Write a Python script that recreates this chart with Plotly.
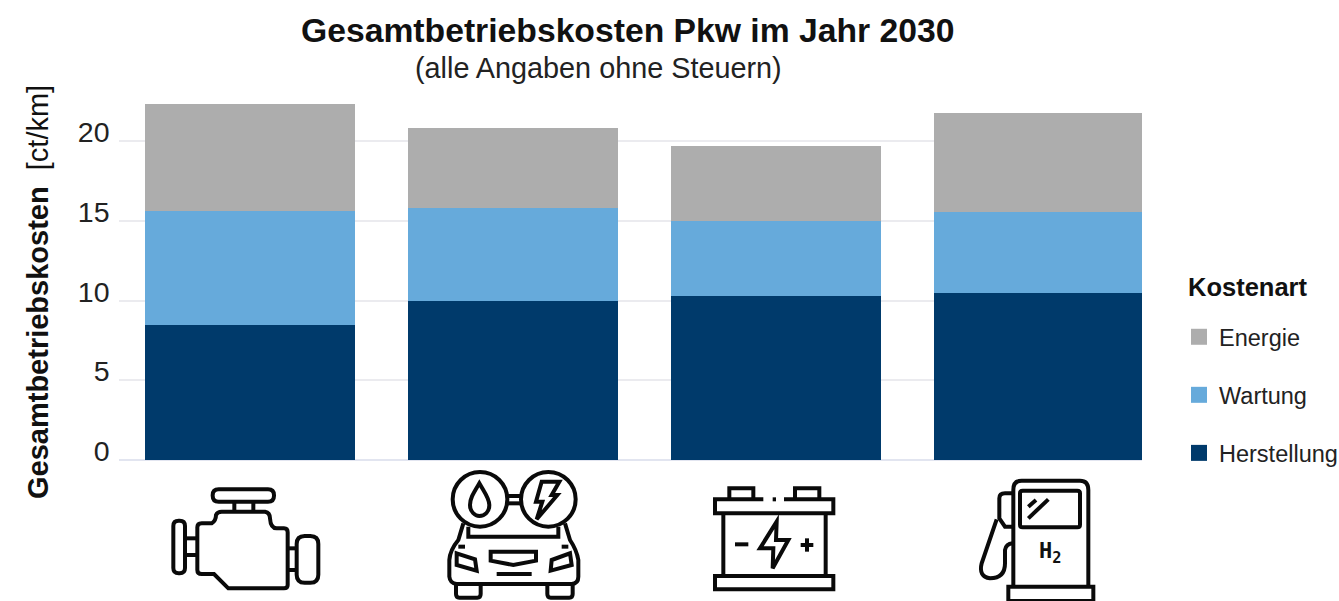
import re
import plotly.graph_objects as go

W, H = 1339, 601

# Cost stack per drivetrain, ct/km
drivetrains = ["Verbrenner", "Hybrid", "Batterie", "Wasserstoff"]
herstellung = [8.47, 9.98, 10.3, 10.48]
wartung = [7.19, 5.87, 4.7, 5.09]
energie = [6.69, 5.02, 4.7, 6.23]
y_ticks = [0, 5, 10, 15, 20]

DARK, BLUE, GREY = "#003a6b", "#66aadb", "#adadad"
TEXT = "#222222"
FONT = "Liberation Sans"


def rrect(x0, y0, x1, y1, r):
    return (f"M{x0+r},{y0} L{x1-r},{y0} Q{x1},{y0} {x1},{y0+r} L{x1},{y1-r} Q{x1},{y1} {x1-r},{y1} "
            f"L{x0+r},{y1} Q{x0},{y1} {x0},{y1-r} L{x0},{y0+r} Q{x0},{y0} {x0+r},{y0} Z")


def circle(cx, cy, r):
    k = 0.5523 * r
    return (f"M{cx-r},{cy} C{cx-r},{cy-k} {cx-k},{cy-r} {cx},{cy-r} C{cx+k},{cy-r} {cx+r},{cy-k} {cx+r},{cy} "
            f"C{cx+r},{cy+k} {cx+k},{cy+r} {cx},{cy+r} C{cx-k},{cy+r} {cx-r},{cy+k} {cx-r},{cy} Z")


# Icon outlines, drawn on a 3x grid and placed by an offset
ENGINE_CAR = [
    rrect(218, 58, 402, 95, 18),
    "M283,95 L283,125", "M340,95 L340,125",
    "M185,160 L215,160 Q228,152 228,135 Q232,125 245,125 L375,125 Q390,128 390,145 Q392,175 410,175 "
    "L432,175 Q443,175 443,187 L443,345 Q443,355 432,355 L265,355 L222,312 L185,312 Q172,312 172,300 "
    "L172,172 Q172,160 185,160 Z",
    rrect(100, 152, 135, 310, 16),
    "M135,205 L172,205", "M135,255 L172,255",
    "M443,235 L470,235", "M443,300 L470,300",
    rrect(470, 198, 535, 338, 24),
    circle(1020, 88, 82), circle(1225, 88, 82),
    "M1102,78 L1145,78", "M1102,100 L1145,100",
    "M1018,40 C1000,70 990,85 990,105 C990,125 1005,138 1018,138 C1035,138 1048,125 1048,105 C1048,85 1035,70 1018,40 Z",
    "M1205,35 L1258,35 L1235,75 L1252,75 L1190,148 L1207,95 L1188,95 Z",
    "M970,160 L955,210 Q930,240 928,270 L928,320 Q930,340 950,342 L1295,342 Q1315,340 1315,320 L1315,270 "
    "Q1310,240 1290,210 L1275,160",
    "M985,170 L985,200 L1255,200 L1255,170",
    "M948,342 L948,372 Q948,383 958,383 L1012,383 Q1022,383 1022,372 L1022,342",
    "M1222,342 L1222,372 Q1222,383 1232,383 L1288,383 Q1298,383 1298,372 L1298,342",
    "M950,250 L1005,268 L1010,302 L950,285 Z", "M1235,270 L1290,250 L1295,285 L1232,302 Z",
    "M955,230 L975,230", "M1265,230 L1285,230",
    "M1052,245 L1188,245 L1188,272 L1120,285 L1052,272 Z",
    "M1070,312 L1175,312",
]
BATTERY_PUMP = [
    "M148,88 L148,55 L220,55 L220,88", "M345,88 L345,55 L418,55 L418,88",
    "M250,88 L105,88 L105,130 L460,130 L460,88 L312,88", "M278,88 L288,88",
    "M130,130 L130,318", "M437,130 L437,318",
    "M105,318 L460,318 L460,358 L105,358 Z",
    "M165,223 L205,223", "M362,225 L400,225", "M381,205 L381,245",
    "M290,155 L240,235 L280,235 L278,295 L325,210 L288,210 Z",
    "M1000,350 L1000,60 Q1000,32 1025,32 L1200,32 Q1225,32 1225,60 L1225,350",
    "M985,400 L985,350 L1240,350 L1240,400", "M985,393 L1240,393",
    rrect(1020, 62, 1200, 172, 8),
    "M1045,110 L1068,90", "M1045,145 L1105,88",
    "M1000,70 L975,70 Q958,70 958,85 L958,145 L975,170 L1000,170",
    "M950,148 L905,280 Q895,320 930,325 Q975,325 975,280 L975,240 Q978,222 998,220",
]


def place(path, ox, oy):
    # Path coordinates alternate x,y; bring them from the 3x grid to page pixels
    def conv(m):
        return f"{ox + float(m.group(1))/3:.2f},{oy + float(m.group(2))/3:.2f}"
    return re.sub(r"(-?[\d.]+),(-?[\d.]+)", conv, path)


def icon_shapes(paths, ox, oy):
    return [dict(type="path", path=place(p, ox, oy), xref="x2", yref="y2",
                 line=dict(color="#0a0a0a", width=4), layer="above") for p in paths]


series = [("Herstellung", herstellung, DARK, 3),
          ("Wartung", wartung, BLUE, 2),
          ("Energie", energie, GREY, 1)]

fig = go.Figure()
for name, values, colour, rank in series:
    fig.add_bar(x=drivetrains, y=values, name=name, marker_color=colour,
                marker_line_width=0, showlegend=False)

# Legend entries with larger square keys, on the page-pixel axis
for name, values, colour, rank in series:
    fig.add_scatter(x=[None], y=[None], xaxis="x2", yaxis="y2", mode="markers", name=name,
                    marker=dict(symbol="square", size=16, color=colour),
                    legendgroup=name, legendrank=rank, hoverinfo="skip")

fig.update_layout(
    width=W, height=H, barmode="stack", bargap=0.2,
    margin=dict(l=0, r=0, t=0, b=0, autoexpand=False),
    paper_bgcolor="white", plot_bgcolor="rgba(0,0,0,0)",
    font=dict(family=FONT, color=TEXT),
    xaxis=dict(domain=[118.5/W, 1142/W], range=[-0.5, 3.392], showticklabels=False,
               showgrid=False, zeroline=False, ticks=""),
    yaxis=dict(domain=[(H-460)/H, (H-90)/H], range=[0, 23.23], tickvals=y_ticks,
               tickfont=dict(size=28.5, color=TEXT), gridcolor="#ebebef", gridwidth=1.5,
               zeroline=True, zerolinecolor="#e2e5f0", zerolinewidth=1.5, ticks="",
               ticklabelstandoff=8, ticklabelshift=-9),
    xaxis2=dict(domain=[0, 1], range=[0, W], visible=False, anchor="y2"),
    yaxis2=dict(domain=[0, 1], range=[H, 0], visible=False, anchor="x2"),
    legend=dict(x=1179/W, y=(H-315)/H, xanchor="left", yanchor="top",
                traceorder="grouped", tracegroupgap=24.5, bgcolor="rgba(0,0,0,0)",
                font=dict(size=23.5, color=TEXT)),
    shapes=icon_shapes(ENGINE_CAR, 140, 470) + icon_shapes(BATTERY_PUMP, 680, 470),
    annotations=[
        dict(text="<b>Gesamtbetriebskosten Pkw im Jahr 2030</b>", x=627, y=30, xref="x2", yref="y2",
             showarrow=False, font=dict(size=33.7, color="#111111")),
        dict(text="(alle Angaben ohne Steuern)", x=598, y=68, xref="x2", yref="y2",
             showarrow=False, font=dict(size=28.8, color=TEXT)),
        dict(text="<b>Gesamtbetriebskosten</b>  [ct/km]", x=38, y=292, xref="x2", yref="y2",
             textangle=-90, showarrow=False, font=dict(size=29, color="#111111")),
        dict(text="<b>Kostenart</b>", x=1186, y=287, xref="x2", yref="y2", xanchor="left",
             showarrow=False, font=dict(size=25.5, color="#111111")),
        dict(text="<b>H<sub>2</sub></b>", x=1050, y=552, xref="x2", yref="y2",
             showarrow=False, font=dict(size=22, family="DejaVu Sans Mono", color="#111111")),
    ],
)

fig.write_html("out.html")
